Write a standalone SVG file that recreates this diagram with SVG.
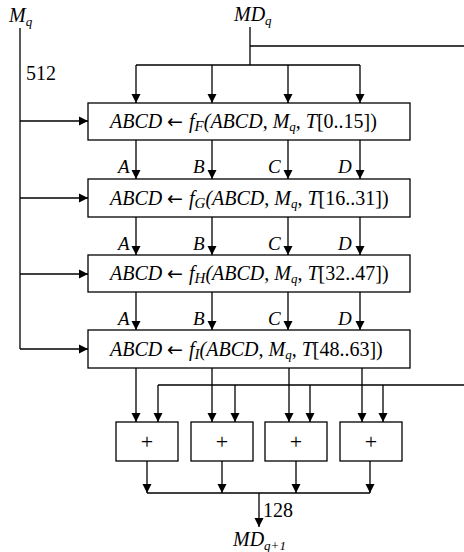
<svg xmlns="http://www.w3.org/2000/svg" width="464" height="552" viewBox="0 0 464 552">
<defs>
<marker id="ah" viewBox="0 0 10 10" refX="10" refY="5" markerWidth="9" markerHeight="10" markerUnits="userSpaceOnUse" orient="auto">
<path d="M0,0 L10,5 L0,10 Z" fill="#000"/>
</marker>
<style>
.ln{stroke:#000;stroke-width:1.3;fill:none}
.ar{stroke:#000;stroke-width:1.3;fill:none;marker-end:url(#ah)}
.bx{fill:#fff;stroke:#000;stroke-width:1.3}
text{font-family:"Liberation Serif","Times New Roman",serif;fill:#000}
.it{font-style:italic}
.t{font-size:20px}
.l{font-size:19px}
.s{font-size:13px}
.sf{font-size:15px}
.pl{font-size:22px}
.arw{font-family:"DejaVu Sans",sans-serif;font-size:19px;font-style:normal}
</style>
</defs>
<rect width="464" height="552" fill="#fff"/>
<g id="connectors">
<path class="ln" d="M20,28 V349"/>
<path class="ar" d="M20,121 H88"/>
<path class="ar" d="M20,198 H88"/>
<path class="ar" d="M20,274 H88"/>
<path class="ar" d="M20,349 H88"/>
<path class="ln" d="M250,27 V65 M250,46 H464 M136,65 H360"/>
<path class="ar" d="M136,65 V103"/>
<path class="ar" d="M212,65 V103"/>
<path class="ar" d="M288,65 V103"/>
<path class="ar" d="M360,65 V103"/>
<path class="ar" d="M136,140 V179"/>
<path class="ar" d="M212,140 V179"/>
<path class="ar" d="M288,140 V179"/>
<path class="ar" d="M360,140 V179"/>
<path class="ar" d="M136,217 V255"/>
<path class="ar" d="M212,217 V255"/>
<path class="ar" d="M288,217 V255"/>
<path class="ar" d="M360,217 V255"/>
<path class="ar" d="M136,292 V330"/>
<path class="ar" d="M212,292 V330"/>
<path class="ar" d="M288,292 V330"/>
<path class="ar" d="M360,292 V330"/>
<path class="ar" d="M136,368 V422"/>
<path class="ar" d="M212,368 V422"/>
<path class="ar" d="M289,368 V422"/>
<path class="ar" d="M362,368 V422"/>
<path class="ln" d="M158,385 H464"/>
<path class="ar" d="M158,385 V422"/>
<path class="ar" d="M235,385 V422"/>
<path class="ar" d="M310,385 V422"/>
<path class="ar" d="M383,385 V422"/>
<path class="ar" d="M147,461 V493"/>
<path class="ar" d="M222,461 V493"/>
<path class="ar" d="M296,461 V493"/>
<path class="ar" d="M370,461 V493"/>
<path class="ln" d="M147,493 H370"/>
<path class="ar" d="M259,493 V527"/>
</g>
<g id="labels">
<text x="9" y="22" class="t it">M<tspan class="s" dy="4">q</tspan></text>
<text x="234" y="21" class="t it">MD<tspan class="s" dy="4">q</tspan></text>
<text x="26" y="80" class="t">512</text>
<text x="263" y="517" class="t">128</text>
<text x="233" y="546" class="t it">MD<tspan class="s" dy="4">q+1</tspan></text>
</g>
<g id="ab-labels" class="l it">
<text x="118" y="173">A</text><text x="193" y="173">B</text><text x="268" y="173">C</text><text x="338" y="173">D</text>
<text x="118" y="250">A</text><text x="193" y="250">B</text><text x="268" y="250">C</text><text x="338" y="250">D</text>
<text x="118" y="325">A</text><text x="193" y="325">B</text><text x="268" y="325">C</text><text x="338" y="325">D</text>
</g>
<g id="round-F">
<rect class="bx" x="88" y="103" width="322" height="37"/>
<text x="110" y="128" class="t"><tspan class="it">ABCD</tspan><tspan class="arw" x="167">←</tspan><tspan class="it" x="189">f<tspan class="sf" dy="3">F</tspan><tspan dy="-3">(ABCD</tspan></tspan>, <tspan class="it">M<tspan class="s" dy="3">q</tspan></tspan><tspan dy="-3">, </tspan><tspan class="it">T</tspan>[0..15])</text>
</g>
<g id="round-G">
<rect class="bx" x="88" y="179" width="322" height="38"/>
<text x="110" y="205" class="t"><tspan class="it">ABCD</tspan><tspan class="arw" x="167">←</tspan><tspan class="it" x="189">f<tspan class="sf" dy="3">G</tspan><tspan dy="-3">(ABCD</tspan></tspan>, <tspan class="it">M<tspan class="s" dy="3">q</tspan></tspan><tspan dy="-3">, </tspan><tspan class="it">T</tspan>[16..31])</text>
</g>
<g id="round-H">
<rect class="bx" x="88" y="255" width="322" height="37"/>
<text x="110" y="280" class="t"><tspan class="it">ABCD</tspan><tspan class="arw" x="167">←</tspan><tspan class="it" x="189">f<tspan class="sf" dy="3">H</tspan><tspan dy="-3">(ABCD</tspan></tspan>, <tspan class="it">M<tspan class="s" dy="3">q</tspan></tspan><tspan dy="-3">, </tspan><tspan class="it">T</tspan>[32..47])</text>
</g>
<g id="round-I">
<rect class="bx" x="88" y="330" width="322" height="38"/>
<text x="110" y="356" class="t"><tspan class="it">ABCD</tspan><tspan class="arw" x="167">←</tspan><tspan class="it" x="189">f<tspan class="sf" dy="3">I</tspan><tspan dy="-3">(ABCD</tspan></tspan>, <tspan class="it">M<tspan class="s" dy="3">q</tspan></tspan><tspan dy="-3">, </tspan><tspan class="it">T</tspan>[48..63])</text>
</g>
<g id="add-1"><rect class="bx" x="116" y="422" width="62" height="39"/><text x="147" y="449" class="pl" text-anchor="middle">+</text></g>
<g id="add-2"><rect class="bx" x="191" y="422" width="62" height="39"/><text x="222" y="449" class="pl" text-anchor="middle">+</text></g>
<g id="add-3"><rect class="bx" x="265" y="422" width="62" height="39"/><text x="296" y="449" class="pl" text-anchor="middle">+</text></g>
<g id="add-4"><rect class="bx" x="340" y="422" width="62" height="39"/><text x="371" y="449" class="pl" text-anchor="middle">+</text></g>
</svg>
